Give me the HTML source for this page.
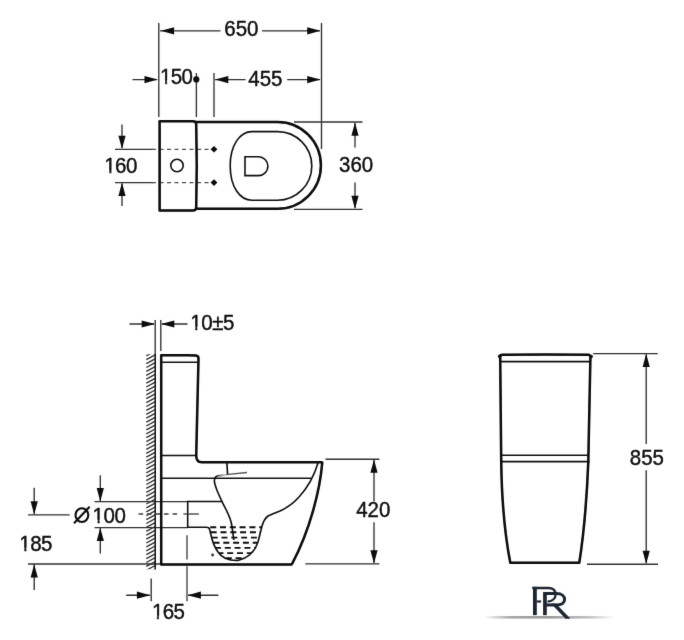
<!DOCTYPE html>
<html><head><meta charset="utf-8"><style>
html,body{margin:0;padding:0;background:#fff;width:684px;height:640px;overflow:hidden}
svg{display:block}
.tx text{font-family:"Liberation Sans",sans-serif;font-size:20.5px;fill:#0a0a0a;stroke:#0a0a0a;stroke-width:0.35}
.d{stroke:#333;stroke-width:1.35;fill:none}
.o{stroke:#080808;stroke-width:2.5;fill:none;stroke-linejoin:round;stroke-linecap:round}
.t{stroke:#0e0e0e;stroke-width:1.6;fill:none}
.a{fill:#0c0c0c;stroke:none}
</style></head><body>
<svg width="684" height="640" viewBox="0 0 684 640">
<defs><filter id="bl" x="0" y="0" width="684" height="640" filterUnits="userSpaceOnUse"><feConvolveMatrix order="3" kernelMatrix="0.00524 0.06192 0.00524 0.06192 0.73137 0.06192 0.00524 0.06192 0.00524" edgeMode="none"/></filter></defs>
<rect width="684" height="640" fill="#fff"/>
<g filter="url(#bl)">
<path class="d" d="M158.8 23V117M321.5 23V149M196.4 73V117M214 73V117M160 30.8H220.5M262 30.8H320M132.5 79.6H157M215 79.6H245.5M287.2 79.6H320M115 149.3H153M115 182.6H153M122 124.5V148M122 183.5V206M294 122H362.5M294 209.3H362.5M355 123V147.5M355 182.5V208M155.2 320V355M160.8 320V351M129.5 324H154M162 324H187.5M94.5 501.6H187.7M94.5 527.6H187.7M28 514.8H69.6M28 564H161M100.3 475.2V501M100.3 528.3V553.6M34.2 487.8V514M34.2 564.7V590M151.2 578.5V601.2M126.2 595.2H150M188 595.2H218.4M325.5 459.2H379.4M305.3 563.8H379.4M374 460V501.4M374 522.2V563M593.1 353.6H657.7M587 564.2H658M646.2 354.5V444M646.2 470.3V563"/>
<path class="a" d="M160.8 30.8L174.1 27.2V34.4ZM320.5 30.8L307.2 27.2V34.4ZM157.8 79.6L144.5 76.0V83.2ZM215.0 79.6L228.3 76.0V83.2ZM320.5 79.6L307.2 76.0V83.2ZM122.0 149.0L118.4 135.7H125.6ZM122.0 182.8L118.4 196.1H125.6ZM355.0 122.4L351.4 135.7H358.6ZM355.0 209.0L351.4 195.7H358.6ZM155.0 324.0L141.7 320.4V327.6ZM161.0 324.0L174.3 320.4V327.6ZM100.3 501.4L96.7 488.1H103.9ZM100.3 527.8L96.7 541.1H103.9ZM34.2 514.6L30.6 501.3H37.8ZM34.2 564.2L30.6 577.5H37.8ZM150.2 595.2L136.9 591.6V598.8ZM187.6 595.2L200.9 591.6V598.8ZM374.0 459.5L370.4 472.8H377.6ZM374.0 563.5L370.4 550.2H377.6ZM646.2 353.8L642.6 367.1H649.8ZM646.2 564.0L642.6 550.7H649.8Z"/>
<circle cx="196.3" cy="79.4" r="3.1" class="a"/>
<path class="a" d="M214 146L217.4 149.3L214 152.6L210.6 149.3ZM214 179.3L217.4 182.6L214 185.9L210.6 182.6Z"/>
<path d="M152 149.3H210M152 182.6H210" stroke="#505050" stroke-width="1.3" stroke-dasharray="4 3.5" fill="none"/>
<g class="o">
<path d="M159.6 121.2H193Q196 121.2 196.2 124Q197.3 165.5 196.2 207.5Q196 210.6 193 210.6H159.6Z"/>
<path d="M196 122H277.5A43.4 43.4 0 0 1 277.5 208.8H196"/>
</g>
<g class="t">
<path d="M277.5 131.6A34.3 34.3 0 0 1 277.5 200.2H252C240 200.2 230.2 187 230.2 165.9C230.2 145 240 131.6 252 131.6Z"/>
<path d="M245 156.8H258.5A9.4 9.4 0 0 1 258.5 175.6H245Z"/>
<circle cx="177" cy="165.5" r="6.2"/>
</g>
<clipPath id="hc"><rect x="145" y="354.3" width="11" height="215"/></clipPath>
<g clip-path="url(#hc)" stroke="#333" stroke-width="1.4" fill="none"><path d="M146.3 355.8L155.2 351.0M146.3 359.7L155.2 354.9M146.3 363.6L155.2 358.8M146.3 367.5L155.2 362.7M146.3 371.4L155.2 366.6M146.3 375.3L155.2 370.5M146.3 379.2L155.2 374.4M146.3 383.1L155.2 378.3M146.3 387.0L155.2 382.2M146.3 390.9L155.2 386.1M146.3 394.8L155.2 390.0M146.3 398.7L155.2 393.9M146.3 402.6L155.2 397.8M146.3 406.5L155.2 401.7M146.3 410.4L155.2 405.6M146.3 414.3L155.2 409.5M146.3 418.2L155.2 413.4M146.3 422.1L155.2 417.3M146.3 426.0L155.2 421.2M146.3 429.9L155.2 425.1M146.3 433.8L155.2 429.0M146.3 437.7L155.2 432.9M146.3 441.6L155.2 436.8M146.3 445.5L155.2 440.7M146.3 449.4L155.2 444.6M146.3 453.3L155.2 448.5M146.3 457.2L155.2 452.4M146.3 461.1L155.2 456.3M146.3 465.0L155.2 460.2M146.3 468.9L155.2 464.1M146.3 472.8L155.2 468.0M146.3 476.7L155.2 471.9M146.3 480.6L155.2 475.8M146.3 484.5L155.2 479.7M146.3 488.4L155.2 483.6M146.3 492.3L155.2 487.5M146.3 496.2L155.2 491.4M146.3 500.1L155.2 495.3M146.3 504.0L155.2 499.2M146.3 507.9L155.2 503.1M146.3 511.8L155.2 507.0M146.3 515.7L155.2 510.9M146.3 519.6L155.2 514.8M146.3 523.5L155.2 518.7M146.3 527.4L155.2 522.6M146.3 531.3L155.2 526.5M146.3 535.2L155.2 530.4M146.3 539.1L155.2 534.3M146.3 543.0L155.2 538.2M146.3 546.9L155.2 542.1M146.3 550.8L155.2 546.0M146.3 554.7L155.2 549.9M146.3 558.6L155.2 553.8M146.3 562.5L155.2 557.7M146.3 566.4L155.2 561.6M146.3 570.3L155.2 565.5M146.3 574.2L155.2 569.4"/></g>
<path d="M155.2 354V569.5" stroke="#111" stroke-width="1.5" fill="none"/>
<g class="o">
<path d="M161.2 564.5V355.3H180Q192 355 195.8 355.5Q198.5 355.8 198.5 358.5L196.2 456Q196.4 462.2 201.8 462.2H321.5Q322.5 462.2 322.2 463.2C320 490 310 530 292.2 563.6L291.5 564.5H161.2"/>
</g>
<g class="t">
<path d="M161.2 362.2H197.8"/>
<path d="M161.2 455.5H195.5"/>
<path d="M161.2 478.2H311"/>
<path d="M226.8 462L227.6 474.7"/>
<path d="M318 463Q312 483 299 497Q291 506 280 511Q272 514 268 516Q264 519 262 526L258 542Q253 557 238 560.5Q224 561 218 552Q213 545 211 535L209.5 529Q209 527.3 206 527.3H187.7V501.5H222.4"/>
<path d="M223.5 475.3Q217 475.6 215.5 476.9M215.50 476.90C215.32 477.63 214.17 479.12 214.40 481.30C214.63 483.48 215.65 486.67 216.90 490.00C218.15 493.33 220.23 497.75 221.90 501.30C223.57 504.85 225.35 507.77 226.90 511.30C228.45 514.83 230.05 517.72 231.20 522.50C232.35 527.28 233.37 537.08 233.80 540.00"/>
</g>
<path d="M225.8 474.7L247 472.5" stroke="#555" stroke-width="1.3" fill="none"/><path d="M218 476.3L225.8 474.8" stroke="#aaa" stroke-width="1.3" fill="none"/>
<circle cx="212.6" cy="555" r="1.4" fill="#333"/>
<clipPath id="wc"><path d="M208 526H264L262 526L258 542Q253 557 238 560.5Q224 561 218 552Q213 545 211 535L209.5 529Z"/></clipPath>
<g clip-path="url(#wc)"><path d="M200.4 527.3H206.4M210.2 527.3H216.2M220.0 527.3H226.0M229.8 527.3H235.8M239.6 527.3H245.6M249.4 527.3H255.4M259.2 527.3H265.2M200.9 532.3H206.9M210.7 532.3H216.7M220.5 532.3H226.5M230.3 532.3H236.3M240.1 532.3H246.1M249.9 532.3H255.9M259.7 532.3H265.7M201.9 537.6H207.9M211.7 537.6H217.7M221.5 537.6H227.5M231.3 537.6H237.3M241.1 537.6H247.1M250.9 537.6H256.9M260.7 537.6H266.7M203.7 542.7H209.7M213.5 542.7H219.5M223.3 542.7H229.3M233.1 542.7H239.1M242.9 542.7H248.9M252.7 542.7H258.7M262.5 542.7H268.5M205.2 547.9H211.2M215.0 547.9H221.0M224.8 547.9H230.8M234.6 547.9H240.6M244.4 547.9H250.4M254.2 547.9H260.2M264.0 547.9H270.0M207.6 553.1H213.6M217.4 553.1H223.4M227.2 553.1H233.2M237.0 553.1H243.0M246.8 553.1H252.8M256.6 553.1H262.6M266.4 553.1H272.4M206.2 558.3H212.2M216.0 558.3H222.0M225.8 558.3H231.8M235.6 558.3H241.6M245.4 558.3H251.4M255.2 558.3H261.2M265.0 558.3H271.0" stroke="#111" stroke-width="1.9" fill="none"/></g>
<path d="M138.6 514H181" stroke="#3a3a3a" stroke-width="1.3" stroke-dasharray="4.5 4" fill="none"/><path d="M183.4 514H198.8" stroke="#3a3a3a" stroke-width="1.3" fill="none"/>
<path d="M187 535.3V559.4M187 566.3V601.2" stroke="#3c3c3c" stroke-width="1.3" fill="none"/>
<g class="o">
<path d="M501.2 461.6L500.2 357Q500.2 354.8 502.5 354.8Q545 354.2 588 354.8Q590.6 354.8 590.4 357.5L588.3 461.6"/>
<path d="M501.2 461.6Q502 520 510.3 562.8H579.3Q586 520 588.3 461.6"/>
</g>
<circle cx="499.6" cy="356.3" r="1.7" fill="#0a0a0a"/><circle cx="591.2" cy="356.5" r="1.7" fill="#0a0a0a"/>
<g class="t">
<path d="M500.8 361.6H590"/>
<path d="M500.8 455.3H588.5M500.8 461.6H588.5"/>
</g>
<defs><linearGradient id="sh" x1="0" x2="1"><stop offset="0" stop-color="#fff"/><stop offset="0.2" stop-color="#a8a8a8"/><stop offset="0.5" stop-color="#9a9a9a"/><stop offset="0.8" stop-color="#c0c0c0"/><stop offset="1" stop-color="#fff"/></linearGradient></defs>
<rect x="484" y="616" width="130" height="2.6" fill="url(#sh)"/>
<g fill="#1f2630">
<rect x="533" y="586.8" width="3.8" height="28.4"/>
<rect x="536.5" y="600.4" width="4.6" height="2.2"/>
<rect x="543.1" y="592" width="3.7" height="23.2"/>
<path d="M551 603.5H555.8L570.5 618.8H565.5Z"/>
</g>
<g fill="none" stroke="#1f2630">
<path d="M532.2 588H548.2C553.5 588 555.6 591 555.6 594.5C555.6 598.5 552.3 601.5 547.5 601.6" stroke-width="2.3"/>
<path d="M544.5 593.6H556.5C562 593.6 564.6 596.3 564.6 599.4C564.6 602.8 561.5 605 556.5 605H546" stroke-width="3"/>
</g>
<g class="tx"><text transform="translate(224.30 35.70) scale(1 1.045)">650</text><text transform="translate(160.00 83.80) scale(1 1.045)" letter-spacing="-0.70">150</text><text transform="translate(248.30 86.00) scale(1 1.045)">455</text><text transform="translate(104.30 173.40) scale(1 1.045)" letter-spacing="-0.60">160</text><text transform="translate(339.00 171.80) scale(1 1.045)">360</text><text transform="translate(190.20 329.60) scale(1 1.045)" letter-spacing="-0.40">10±5</text><text transform="translate(92.60 522.50) scale(1 1.045)" letter-spacing="-0.50">100</text><text transform="translate(19.30 550.70) scale(1 1.045)" letter-spacing="-0.50">185</text><text transform="translate(151.90 618.60) scale(1 1.045)" letter-spacing="-0.60">165</text><text transform="translate(356.20 517.40) scale(1 1.045)">420</text><text transform="translate(629.80 465.10) scale(1 1.045)">855</text></g>
<ellipse cx="81.9" cy="515.1" rx="6.4" ry="6.9" fill="none" stroke="#0a0a0a" stroke-width="2.1"/><path d="M74 523.2L89.6 506.8" stroke="#0a0a0a" stroke-width="2.1"/>
<rect x="160.60" y="81.30" width="4.30" height="4" fill="#fff"/><rect x="167.16" y="81.30" width="4.10" height="4" fill="#fff"/><rect x="103.90" y="170.90" width="5.30" height="4" fill="#fff"/><rect x="111.46" y="170.90" width="4.10" height="4" fill="#fff"/><rect x="189.80" y="327.10" width="5.30" height="4" fill="#fff"/><rect x="197.36" y="327.10" width="4.10" height="4" fill="#fff"/><rect x="92.20" y="520.00" width="5.30" height="4" fill="#fff"/><rect x="99.76" y="520.00" width="4.10" height="4" fill="#fff"/><rect x="18.90" y="548.20" width="5.30" height="4" fill="#fff"/><rect x="26.46" y="548.20" width="4.10" height="4" fill="#fff"/><rect x="151.50" y="616.10" width="5.30" height="4" fill="#fff"/><rect x="159.06" y="616.10" width="4.10" height="4" fill="#fff"/>
</g></svg>
</body></html>
